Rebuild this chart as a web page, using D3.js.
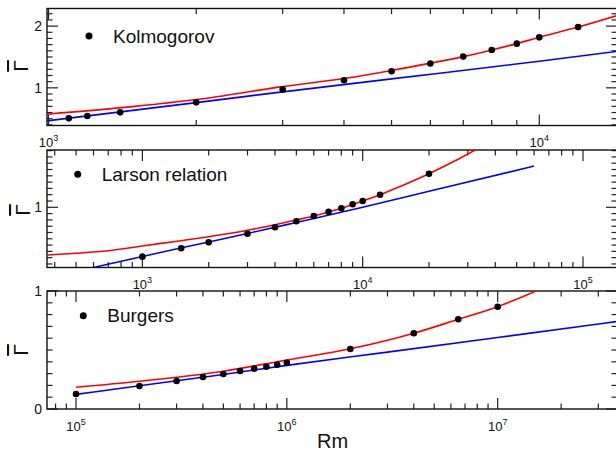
<!DOCTYPE html>
<html>
<head>
<meta charset="utf-8">
<script src="https://cdn.jsdelivr.net/npm/d3@7"></script>
<style>
  body { margin: 0; background: #fff; }
  svg { display: block; font-family: Arial, "Liberation Sans", sans-serif; }
</style>
</head>
<body>
<svg id="chart" width="616" height="452"></svg>
<script>
// Kolmogorov
const kolRm = [1100, 1200, 1400, 2000, 3000, 4000, 5000, 6000, 7000, 8000, 9000, 10000, 12000];
const kolGamma = [0.506, 0.544, 0.603, 0.765, 0.974, 1.124, 1.269, 1.394, 1.506, 1.613, 1.716, 1.818, 1.984];
const kolRedRm = [993, 1500, 2000, 3000, 4000, 5000, 6000, 7000, 8000, 9000, 10000, 12000, 14400];
const kolRedGamma = [0.575, 0.70, 0.81, 1.02, 1.15, 1.28, 1.40, 1.506, 1.613, 1.716, 1.818, 1.984, 2.17];
const kolBlueRm = [993, 2000, 3000, 5000, 10000, 14400];
const kolBlueGamma = [0.465, 0.76, 0.935, 1.145, 1.43, 1.59];

// Larson relation
const larRm = [1000, 1500, 2000, 3000, 4000, 5000, 6000, 7000, 8000, 9000, 10000, 12000, 20000];
const larGamma = [0.216, 0.349, 0.444, 0.581, 0.683, 0.778, 0.862, 0.930, 0.984, 1.048, 1.10, 1.20, 1.533];
const larRedRm = [369, 500, 700, 1000, 1500, 2000, 3000, 4000, 5000, 6000, 8000, 10000, 12000, 15000, 20000, 26000, 32400];
const larRedGamma = [0.243, 0.27, 0.31, 0.386, 0.47, 0.533, 0.635, 0.724, 0.80, 0.862, 0.984, 1.10, 1.20, 1.34, 1.533, 1.73, 1.91];
const larBlueRm = [600, 1000, 2000, 3000, 5000, 10000, 20000, 60000];
const larBlueGamma = [0.045, 0.22, 0.45, 0.585, 0.76, 1.0, 1.255, 1.655];

// Burgers
const burRm = [1e5, 2e5, 3e5, 4e5, 5e5, 6e5, 7e5, 8e5, 9e5, 1e6, 2e6, 4e6, 6.5e6, 1e7];
const burGamma = [0.127, 0.195, 0.237, 0.271, 0.297, 0.322, 0.342, 0.358, 0.375, 0.392, 0.508, 0.642, 0.76, 0.867];
const burRedRm = [1e5, 2e5, 5e5, 1e6, 2e6, 4e6, 6.5e6, 1e7, 1.52e7];
const burRedGamma = [0.184, 0.235, 0.32, 0.415, 0.51, 0.642, 0.76, 0.867, 1.0];
const burBlueRm = [1e5, 2e5, 5e5, 1e6, 3e6, 1e7, 3.68e7];
const burBlueGamma = [0.124, 0.197, 0.293, 0.37, 0.482, 0.606, 0.742];

// axis tick labels
const kolYLabels = [1, 2];
const larYLabels = [1];
const burYLabels = [0, 1];
const kolXLabels = [3, 4];
const larXLabels = [3, 4, 5];
const burXLabels = [5, 6, 7];

const zip = (xs, ys) => xs.map((x, i) => ({ x, y: ys[i] }));

const panels = [
  { name: 'Kolmogorov', pts: zip(kolRm, kolGamma), red: zip(kolRedRm, kolRedGamma), blue: zip(kolBlueRm, kolBlueGamma),
    xDomain: [993, 14400], yDomain: [0.39, 2.285], top: 8.5, bottom: 125.5,
    yLabels: kolYLabels, xLabels: kolXLabels, legend: [89, 36], gammaPos: [28, 66] },
  { name: 'Larson relation', pts: zip(larRm, larGamma), red: zip(larRedRm, larRedGamma), blue: zip(larBlueRm, larBlueGamma),
    xDomain: [369, 142700], yDomain: [0.044, 1.91], top: 150, bottom: 267.5,
    yLabels: larYLabels, xLabels: larXLabels, legend: [77.7, 174.3], gammaPos: [30, 210] },
  { name: 'Burgers', pts: zip(burRm, burGamma), red: zip(burRedRm, burRedGamma), blue: zip(burBlueRm, burBlueGamma),
    xDomain: [72860, 3.68e7], yDomain: [0, 1], top: 291, bottom: 409,
    yLabels: burYLabels, xLabels: burXLabels, legend: [83.3, 315.7], gammaPos: [28, 350] }
];

const left = 47, right = 617;
const svg = d3.select('#chart');

panels.forEach((p, i) => {
  const x = d3.scaleLog().domain(p.xDomain).range([left, right]);
  const y = d3.scaleLinear().domain(p.yDomain).range([p.bottom, p.top]);
  const g = svg.append('g');

  g.append('rect')
    .attr('x', left).attr('y', p.top)
    .attr('width', right - left).attr('height', p.bottom - p.top)
    .attr('fill', '#fff');

  g.append('clipPath').attr('id', 'clip' + i)
    .append('rect')
    .attr('x', left).attr('y', p.top)
    .attr('width', right - left).attr('height', p.bottom - p.top);

  // x ticks, inward on top and bottom
  const lo = Math.floor(Math.log10(p.xDomain[0])), hi = Math.ceil(Math.log10(p.xDomain[1]));
  const xTicks = [];
  for (let d = lo; d <= hi; d++) {
    for (let k = 1; k <= 9; k++) {
      const v = k * Math.pow(10, d);
      if (v >= p.xDomain[0] && v <= p.xDomain[1]) xTicks.push({ v, major: k === 1 });
    }
  }
  const ticks = g.append('g').attr('stroke', '#222').attr('stroke-width', 1.2);
  xTicks.forEach(t => {
    const len = t.major ? 11 : 5.5;
    ticks.append('line').attr('x1', x(t.v)).attr('x2', x(t.v)).attr('y1', p.bottom).attr('y2', p.bottom - len);
    ticks.append('line').attr('x1', x(t.v)).attr('x2', x(t.v)).attr('y1', p.top).attr('y2', p.top + len);
  });

  // y ticks, every 0.1
  const yTicks = d3.range(Math.ceil(p.yDomain[0] * 10), Math.floor(p.yDomain[1] * 10) + 1).map(v => v / 10);
  yTicks.forEach(v => {
    const len = Math.abs(v - Math.round(v)) < 1e-9 ? 11 : 5.5;
    ticks.append('line').attr('x1', left).attr('x2', left + len).attr('y1', y(v)).attr('y2', y(v));
    ticks.append('line').attr('x1', right).attr('x2', right - len).attr('y1', y(v)).attr('y2', y(v));
  });

  // frame
  g.append('rect')
    .attr('x', left).attr('y', p.top)
    .attr('width', right - left).attr('height', p.bottom - p.top)
    .attr('fill', 'none').attr('stroke', '#111').attr('stroke-width', 1.4);

  // fit lines
  const line = d3.line().x(d => x(d.x)).y(d => y(d.y)).curve(d3.curveMonotoneX);
  const plot = g.append('g').attr('clip-path', `url(#clip${i})`);
  plot.append('path').datum(p.blue)
    .attr('d', line).attr('fill', 'none').attr('stroke', '#0000ff').attr('stroke-width', 1.6);
  plot.append('path').datum(p.red)
    .attr('d', line).attr('fill', 'none').attr('stroke', '#ff0000').attr('stroke-width', 1.6);

  plot.selectAll('circle.pt').data(p.pts).enter()
    .append('circle').attr('class', 'pt')
    .attr('cx', d => x(d.x)).attr('cy', d => y(d.y)).attr('r', 3.3)
    .attr('fill', '#000');

  // legend
  g.append('circle').attr('cx', p.legend[0]).attr('cy', p.legend[1]).attr('r', 3.5).attr('fill', '#000');
  g.append('text').attr('x', p.legend[0] + 24).attr('y', p.legend[1] + 6.5)
    .attr('font-size', 19).attr('fill', '#111').text(p.name);

  // y tick labels
  g.selectAll('text.ylab').data(p.yLabels).enter()
    .append('text').attr('class', 'ylab')
    .attr('x', left - 5).attr('y', d => y(d)).attr('dy', '0.36em')
    .attr('text-anchor', 'end').attr('font-size', 14).attr('fill', '#111')
    .text(d => d);

  // x tick labels 10^n
  const xl = g.selectAll('text.xlab').data(p.xLabels).enter()
    .append('text').attr('class', 'xlab')
    .attr('x', d => x(Math.pow(10, d))).attr('y', p.bottom + 21.5)
    .attr('text-anchor', 'middle').attr('font-size', 13).attr('fill', '#111');
  xl.append('tspan').text('10');
  xl.append('tspan').attr('dy', -6).attr('font-size', 9).text(d => d);

  // y axis title (Gamma with overbar)
  g.append('text')
    .attr('transform', `translate(${p.gammaPos[0]},${p.gammaPos[1]}) rotate(-90)`)
    .attr('text-anchor', 'middle').attr('font-size', 21).attr('fill', '#111')
    .style('text-decoration', 'overline')
    .text('\u0393');
});

svg.append('text')
  .attr('x', 332.5).attr('y', 448)
  .attr('text-anchor', 'middle').attr('font-size', 20).attr('fill', '#111')
  .text('Rm');
</script>
</body>
</html>
